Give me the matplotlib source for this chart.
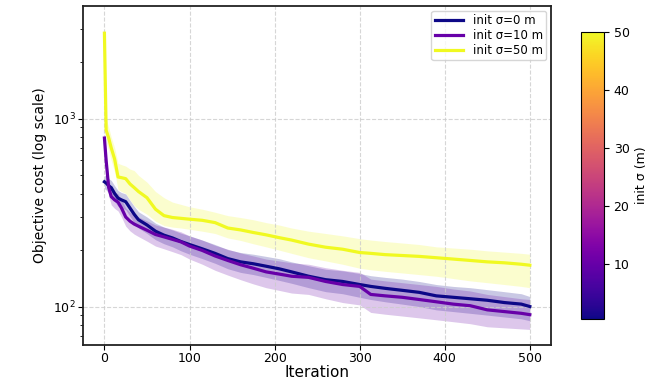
import numpy as np
import matplotlib
matplotlib.use("Agg")
import matplotlib.pyplot as plt
from matplotlib import cm, colors

# iteration sample points of the best-so-far curves
iters = [0, 2, 5, 8, 12, 16, 20, 25, 30, 35, 40, 50, 60, 70, 80, 90, 100, 115, 130, 145,
         160, 175, 190, 205, 220, 240, 260, 280, 300, 313, 330, 350, 370, 390, 410, 430,
         450, 470, 490, 500]

sigmas = [0, 10, 50]

# init sigma = 0 m
mean_s0 = [462, 455, 440, 430, 400, 378, 370, 362, 335, 310, 290, 272, 252, 240, 232, 222, 214, 203, 192, 180,
           173, 169, 164, 159, 153, 145, 139, 136, 131, 128, 125, 122, 119, 114, 112, 110,
           108, 105, 103, 100]
upper_s0 = [500, 495, 480, 470, 440, 415, 405, 398, 368, 342, 320, 300, 278, 265, 256, 246, 238, 226, 214, 201,
            194, 190, 185, 180, 173, 165, 158, 155, 150, 146, 143, 140, 136, 131, 128, 126,
            123, 120, 117, 113]
lower_s0 = [425, 418, 402, 392, 362, 342, 335, 328, 302, 280, 262, 245, 227, 216, 208, 198, 190, 180, 170, 159,
            152, 148, 143, 138, 133, 126, 120, 117, 112, 109, 106, 103, 100, 96, 94, 92,
            90, 88, 86, 84]

# init sigma = 10 m
mean_s10 = [790, 600, 430, 385, 370, 360, 335, 300, 285, 275, 268, 255, 242, 235, 228, 221, 210, 199, 186, 176,
            167, 160, 153, 149, 145, 143, 136, 131, 128, 116, 114, 112, 109, 106, 103, 101,
            96, 94, 92, 90.5]
upper_s10 = [860, 660, 475, 425, 408, 398, 372, 335, 318, 307, 300, 286, 272, 265, 258, 250, 238, 226, 212, 202,
             193, 186, 179, 175, 171, 168, 161, 156, 152, 140, 137, 134, 131, 128, 124, 121,
             116, 113, 110, 109]
lower_s10 = [720, 540, 388, 348, 333, 323, 300, 268, 253, 243, 236, 223, 210, 203, 196, 189, 179, 168, 156, 147,
             139, 132, 126, 122, 118, 116, 110, 105, 102, 93, 91, 89, 87, 85, 83, 81,
             78, 77, 76, 75.5]

# init sigma = 50 m
mean_s50 = [2860, 870, 790, 700, 610, 490, 486, 480, 450, 430, 410, 380, 330, 305, 298, 295, 292, 288, 280, 262,
            256, 248, 241, 233, 226, 215, 207, 202, 194, 192, 189, 187, 185, 182, 179, 176,
            173, 171, 168, 166]
upper_s50 = [3300, 1000, 900, 800, 700, 580, 570, 560, 540, 530, 500, 460, 410, 380, 360, 350, 340, 330, 318, 305,
             298, 290, 280, 272, 262, 252, 245, 238, 230, 226, 222, 218, 214, 208, 205, 202,
             198, 195, 192, 190]
lower_s50 = [2500, 750, 680, 600, 520, 420, 410, 400, 370, 345, 330, 310, 285, 270, 265, 262, 258, 252, 245, 232,
             225, 216, 208, 200, 192, 182, 175, 168, 160, 157, 154, 151, 148, 145, 141, 137,
             134, 131, 128, 126]

means = [mean_s0, mean_s10, mean_s50]
uppers = [upper_s0, upper_s10, upper_s50]
lowers = [lower_s0, lower_s10, lower_s50]

cmap = matplotlib.colormaps["plasma"]
norm = colors.Normalize(vmin=0.5, vmax=50)

fig = plt.figure(figsize=(6.6, 3.84), dpi=100)
ax = fig.add_axes([0.126, 0.102, 0.709, 0.882])
cax = fig.add_axes([0.880, 0.169, 0.035, 0.748])

for s, m, up, lo in zip(sigmas, means, uppers, lowers):
    c = cmap(norm(max(s, 0.5)))
    ax.fill_between(iters, lo, up, color=c, alpha=0.22, linewidth=0)
    ax.plot(iters, m, color=c, lw=2.3, label=f"init σ={s} m")

ax.set_yscale("log")
ax.set_xlim(-25, 525)
ax.set_xticks([0, 100, 200, 300, 400, 500])
ax.grid(True, which="major", linestyle="--", color="#cccccc", linewidth=0.8, alpha=0.8)
ax.set_xlabel("Iteration", fontsize=11, labelpad=0)
ax.set_ylabel("Objective cost (log scale)", fontsize=10)
ax.tick_params(labelsize=9, pad=2)
for sp in ax.spines.values():
    sp.set_color("#222222")
    sp.set_linewidth(1.3)
ax.legend(loc="upper right", fontsize=8.5, frameon=True, edgecolor="#cccccc",
          handlelength=2.4, labelspacing=0.15, borderpad=0.3, borderaxespad=0.4)

sm = cm.ScalarMappable(norm=norm, cmap=cmap)
cb = fig.colorbar(sm, cax=cax)
cb.set_ticks([10, 20, 30, 40, 50])
cb.ax.tick_params(labelsize=9)
cb.set_label("init σ (m)", fontsize=9)

fig.savefig("out.png", dpi=100)
